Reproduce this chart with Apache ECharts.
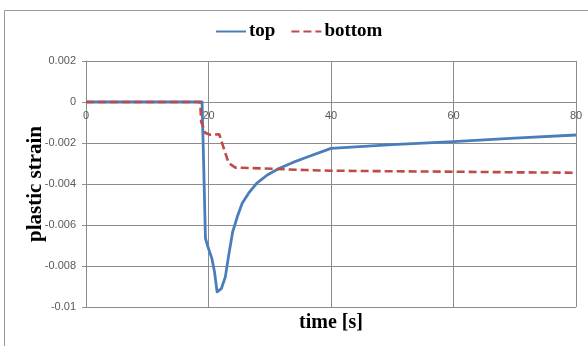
<!DOCTYPE html>
<html>
<head>
<meta charset="utf-8">
<script src="https://cdn.jsdelivr.net/npm/echarts@6/dist/echarts.min.js"></script>
<style>
  html, body { margin: 0; padding: 0; background: #fff; }
  #chart { width: 588px; height: 346px; }
</style>
</head>
<body>
<div id="chart"></div>
<script>
// time [s] / plastic strain
var topTime = [0, 10, 18.95, 19.2, 19.5, 19.9, 20.55, 20.98, 21.4, 22.1, 22.75, 23.3, 23.95, 24.7, 25.5, 26.55, 27.9, 29.6, 31.5, 33.7, 35.8, 40, 50, 60, 70, 80];
var topStrain = [0, 0, 0, -0.0029, -0.00665, -0.00706, -0.00763, -0.00828, -0.00926, -0.0091, -0.00853, -0.00747, -0.00633, -0.0056, -0.00494, -0.00445, -0.00396, -0.00356, -0.00324, -0.00296, -0.00272, -0.00226, -0.00208, -0.00193, -0.00176, -0.00161];

var bottomTime = [0, 10, 18.65, 18.8, 19.5, 20.3, 21.75, 22.5, 23.3, 24.4, 28.75, 35.8, 40, 50, 60, 70, 80];
var bottomStrain = [0, 0, 0, -0.00096, -0.00151, -0.0016, -0.00157, -0.00226, -0.00299, -0.0032, -0.00324, -0.00332, -0.00335, -0.00338, -0.0034, -0.00343, -0.00345];

var xTicks = [0, 20, 40, 60, 80];
var yTicks = [-0.01, -0.008, -0.006, -0.004, -0.002, 0, 0.002];

var zip = function (xs, ys) { return xs.map(function (x, i) { return [x, ys[i]] }) };

var chart = echarts.init(document.getElementById('chart'));
var gridColor = '#8c8c8c';
var labelStyle = { fontFamily: 'Liberation Sans', fontSize: 11, color: '#595959' };

// grid geometry, used to lift the x axis up onto the zero line
var gridTop = 61, gridBottom = 39;
var plotH = 346 - gridTop - gridBottom;
var zeroOffset = -plotH * (0 - yTicks[0]) / (yTicks[yTicks.length - 1] - yTicks[0]);

chart.setOption({
    animation: false,
    backgroundColor: '#fff',
    legend: {
        left: 210,
        top: 17,
        itemWidth: 30,
        itemHeight: 14,
        itemGap: 15,
        itemStyle: { opacity: 0 },
        textStyle: { fontFamily: 'Liberation Serif', fontWeight: 'bold', fontSize: 19, color: '#000', padding: [0, 0, 0, -2] },
        data: ['top', 'bottom']
    },
    grid: { left: 86, right: 12, top: gridTop, bottom: gridBottom },
    xAxis: [
        {
            type: 'value',
            min: xTicks[0],
            max: xTicks[xTicks.length - 1],
            interval: 20,
            axisLine: { show: false },
            axisTick: { show: false },
            axisLabel: { show: false },
            splitLine: { show: true, lineStyle: { color: gridColor } }
        },
        {
            type: 'value',
            position: 'bottom',
            offset: zeroOffset,
            min: xTicks[0],
            max: xTicks[xTicks.length - 1],
            interval: 20,
            axisLine: { show: true, onZero: false, lineStyle: { color: gridColor } },
            axisTick: { show: true, length: 4, lineStyle: { color: gridColor } },
            axisLabel: Object.assign({ margin: 8, showMinLabel: true, showMaxLabel: true }, labelStyle),
            splitLine: { show: false }
        }
    ],
    yAxis: {
        type: 'value',
        min: yTicks[0],
        max: yTicks[yTicks.length - 1],
        interval: 0.002,
        name: 'plastic strain',
        nameLocation: 'middle',
        nameGap: 40,
        nameMoveOverlap: false,
        nameTextStyle: { fontFamily: 'Liberation Serif', fontWeight: 'bold', fontSize: 21, color: '#000' },
        axisLine: { show: true, lineStyle: { color: gridColor } },
        axisTick: { show: true, length: 4, lineStyle: { color: gridColor } },
        axisLabel: Object.assign({ margin: 10 }, labelStyle),
        splitLine: { show: true, lineStyle: { color: gridColor } }
    },
    graphic: [
        {
            type: 'rect',
            shape: { x: 4.5, y: 10.5, width: 700, height: 500 },
            style: { fill: 'none', stroke: '#9a9a9a', lineWidth: 1 },
            silent: true
        },
        {
            type: 'text',
            x: 331,
            y: 323,
            style: {
                text: 'time [s]',
                fontFamily: 'Liberation Serif',
                fontWeight: 'bold',
                fontSize: 20,
                fill: '#000',
                textAlign: 'center',
                textVerticalAlign: 'middle'
            }
        }
    ],
    series: [
        {
            name: 'top',
            type: 'line',
            xAxisIndex: 0,
            data: zip(topTime, topStrain),
            symbol: 'none',
            lineStyle: { color: '#4a7ebb', width: 2.8, join: 'round' },
            itemStyle: { color: '#4a7ebb' }
        },
        {
            name: 'bottom',
            type: 'line',
            xAxisIndex: 0,
            data: zip(bottomTime, bottomStrain),
            symbol: 'none',
            lineStyle: { color: '#be4b48', width: 2.6, type: [8, 4] },
            itemStyle: { color: '#be4b48' }
        }
    ]
});
</script>
</body>
</html>
